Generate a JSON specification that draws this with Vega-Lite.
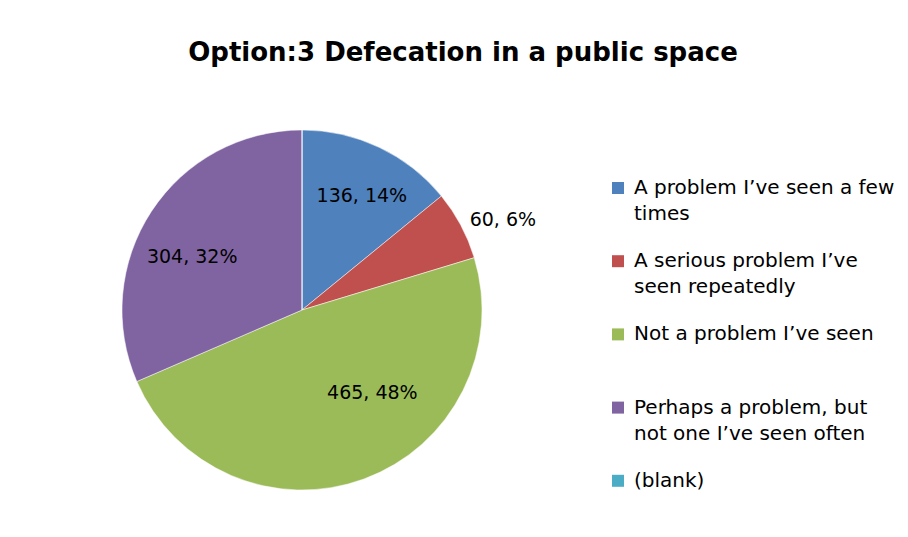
{
  "$schema": "https://vega.github.io/schema/vega-lite/v6.json",
  "width": 364,
  "height": 360,
  "autosize": {"type": "none"},
  "padding": {"left": 120, "top": 130, "right": 424, "bottom": 47},
  "background": "white",
  "config": {"style": {"guide-label": {"lineHeight": 26}}},
  "title": {
    "text": "Option:3 Defecation in a public space",
    "font": "DejaVu Sans",
    "fontSize": 26,
    "fontWeight": "bold",
    "color": "#000000",
    "anchor": "middle",
    "frame": "group",
    "dx": 161,
    "offset": 15
  },
  "data": {
    "values": [
      {"response": "A problem I’ve seen a few times", "count": 136, "pct": 14},
      {"response": "A serious problem I’ve seen repeatedly", "count": 60, "pct": 6},
      {"response": "Not a problem I’ve seen", "count": 465, "pct": 48},
      {"response": "Perhaps a problem, but not one I’ve seen often", "count": 304, "pct": 32},
      {"response": "(blank)", "count": 0, "pct": 0}
    ]
  },
  "transform": [
    {"calculate": "datum.count > 0 ? datum.count + ', ' + datum.pct + '%' : ''", "as": "label"}
  ],
  "encoding": {
    "theta": {"field": "count", "type": "quantitative", "stack": true},
    "order": {"field": "response", "type": "ordinal", "sort": "ascending"}
  },
  "layer": [
    {
      "mark": {"type": "arc", "outerRadius": 180, "stroke": "#ffffff", "strokeWidth": 0.5},
      "encoding": {
        "color": {
          "field": "response",
          "type": "nominal",
          "scale": {
            "domain": ["A problem I’ve seen a few times", "A serious problem I’ve seen repeatedly", "Not a problem I’ve seen", "Perhaps a problem, but not one I’ve seen often", "(blank)"],
            "range": ["#4F81BD", "#C0504D", "#9BBB59", "#8064A2", "#4BACC6"]
          },
          "legend": {
            "title": null,
            "orient": "none",
            "legendX": 488,
            "legendY": 48,
            "padding": 0,
            "symbolType": "square",
            "symbolSize": 144,
            "symbolStrokeWidth": 0,
            "labelFont": "DejaVu Sans",
            "labelFontSize": 20,
            "labelColor": "#000000",
            "labelOffset": 6,
            "labelLimit": 400,
            "gridAlign": "all",
            "rowPadding": 27.2,
            "labelBaseline": "middle",
            "labelExpr": "datum.label == 'A problem I’ve seen a few times' ? ['A problem I’ve seen a few', 'times'] : datum.label == 'A serious problem I’ve seen repeatedly' ? ['A serious problem I’ve', 'seen repeatedly'] : datum.label == 'Perhaps a problem, but not one I’ve seen often' ? ['Perhaps a problem, but', 'not one I’ve seen often'] : datum.label"
          }
        }
      }
    },
    {
      "mark": {
        "type": "text",
        "font": "DejaVu Sans",
        "fontSize": 19,
        "color": "#000000",
        "thetaOffset": {"expr": "datum.count == 465 ? -0.35 : datum.count == 304 ? -0.13 : datum.count == 60 ? 0.07 : 0.04"}
      },
      "encoding": {
        "detail": {"field": "response", "type": "nominal"},
        "text": {"field": "label", "type": "nominal"},
        "radius": {"value": {"expr": "datum.count < 100 ? 220 : datum.count > 400 ? 109 : datum.count > 200 ? 122 : 129"}}
      }
    }
  ]
}
